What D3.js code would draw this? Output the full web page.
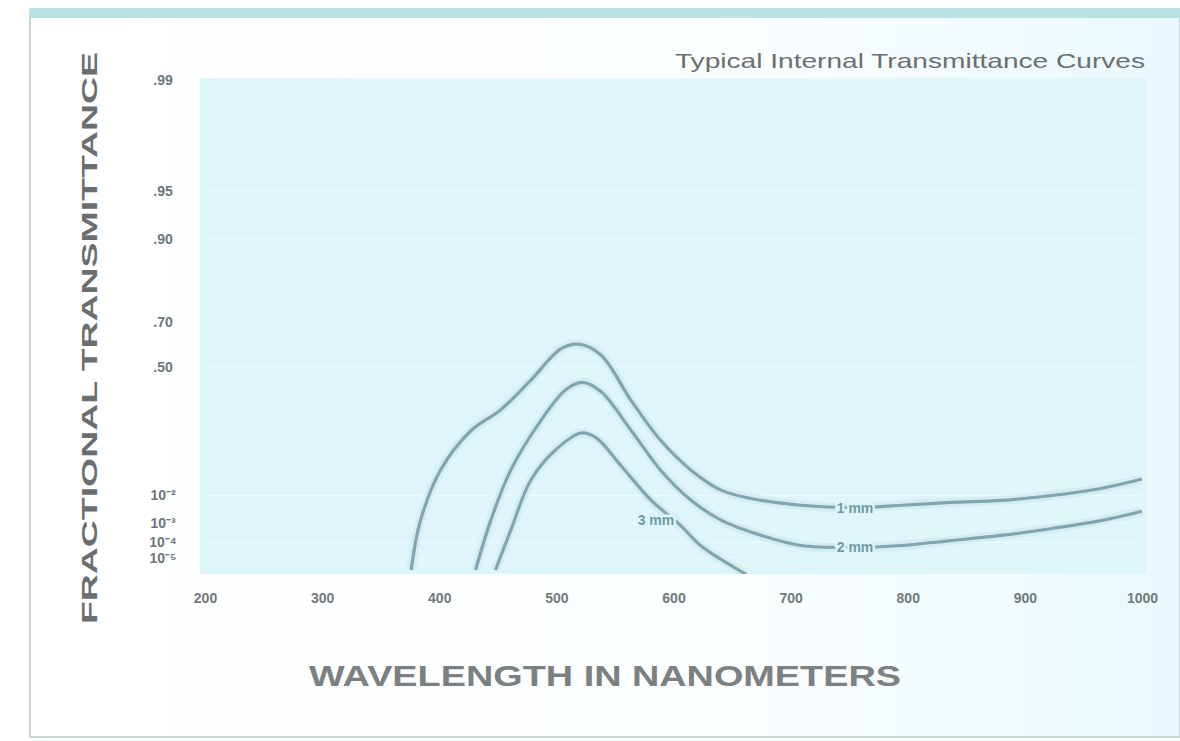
<!DOCTYPE html>
<html>
<head>
<meta charset="utf-8">
<script src="https://cdn.jsdelivr.net/npm/d3@7"></script>
<style>
  body { margin: 0; background: #fff; }
  text { font-family: "Liberation Sans", Arial, sans-serif; }
</style>
</head>
<body>
<div id="chart"></div>
<script>
// wavelength ticks (nm)
const xTicks = [200, 300, 400, 500, 600, 700, 800, 900, 1000];
// transmittance ticks on the double-log (diabatic) scale
const yTicks = [0.99, 0.95, 0.9, 0.7, 0.5, 1e-2, 1e-3, 1e-4, 1e-5];
const yTickLabels = [".99", ".95", ".90", ".70", ".50", "10⁻²", "10⁻³", "10⁻⁴", "10⁻⁵"];

// curves: [wavelength nm, internal transmittance]
const curve1 = [
  [376, 1e-6], [384, 0.0013], [401, 0.042], [427, 0.17], [452, 0.27], [478, 0.43],
  [504, 0.59], [519, 0.61], [538, 0.56], [564, 0.32], [589, 0.13], [615, 0.042],
  [641, 0.014], [675, 0.0071], [709, 0.0049], [752, 0.0041], [795, 0.0049],
  [837, 0.0061], [880, 0.0071], [923, 0.010], [966, 0.016], [1000, 0.027]
];
const curve2 = [
  [431, 1e-6], [444, 0.0013], [461, 0.042], [487, 0.22], [508, 0.38], [522, 0.42],
  [538, 0.37], [564, 0.17], [589, 0.042], [615, 0.0071], [641, 0.0013], [675, 0.00025],
  [709, 6.6e-5], [752, 5e-5], [795, 6.6e-5], [837, 1.3e-4], [880, 2.5e-4],
  [923, 5.6e-4], [966, 0.0013], [1000, 0.003]
];
const curve3 = [
  [448, 1e-6], [461, 4.5e-4], [478, 0.025], [499, 0.094], [521, 0.16], [534, 0.14],
  [555, 0.052], [581, 0.0071], [606, 7.8e-4], [623, 6.6e-5], [649, 2.5e-6], [662, 4e-7]
];
const curveNames = ["1 mm", "2 mm", "3 mm"];
const labelAt = [755, 755, 585]; // wavelength where each name sits
const labelT = [0.0041, 5e-5, 0.0013]; // transmittance level of each name

const W = 1180, H = 741;
const plot = { left: 205, right: 1142, top: 80, bottom: 570 };

// diabatic ordinate: theta = 1 - log10(log10(1/t))
const theta = t => 1 - Math.log10(Math.log10(1 / t));

const svg = d3.select("#chart").append("svg")
  .attr("width", W).attr("height", H);

const defs = svg.append("defs");
const bg = defs.append("linearGradient").attr("id", "bg").attr("x1", 0).attr("x2", 1);
bg.append("stop").attr("offset", "0").attr("stop-color", "#ffffff");
bg.append("stop").attr("offset", "0.6").attr("stop-color", "#fbfeff");
bg.append("stop").attr("offset", "1").attr("stop-color", "#eaf9fc");
defs.append("clipPath").attr("id", "clip").append("rect")
  .attr("x", plot.left - 5).attr("y", plot.top - 2)
  .attr("width", plot.right - plot.left + 10).attr("height", plot.bottom - plot.top + 6);

// frame
svg.append("rect").attr("x", 30).attr("y", 10).attr("width", W - 30).attr("height", H - 14)
  .attr("fill", "url(#bg)").attr("stroke", "#c9d6da").attr("stroke-width", 2);
svg.append("rect").attr("x", 30).attr("y", 8).attr("width", W - 30).attr("height", 10)
  .attr("fill", "#b9e2e2");

// plot area
svg.append("rect")
  .attr("x", plot.left - 5).attr("y", plot.top - 2)
  .attr("width", plot.right - plot.left + 10).attr("height", plot.bottom - plot.top + 6)
  .attr("fill", "#def5fa");

const x = d3.scaleLinear().domain([200, 1000]).range([plot.left, plot.right]);
const y = d3.scaleLinear().domain([theta(1e-6), theta(0.99)]).range([plot.bottom, plot.top]);

// faint grid
svg.append("g").selectAll("line").data(yTicks).join("line")
  .attr("x1", plot.left).attr("x2", plot.right)
  .attr("y1", d => y(theta(d))).attr("y2", d => y(theta(d)))
  .attr("stroke", "#eafafd").attr("stroke-width", 1);

// axes (labels only)
const xAxis = svg.append("g")
  .attr("transform", `translate(0,${plot.bottom + 20})`)
  .call(d3.axisBottom(x).tickValues(xTicks).tickSize(0).tickFormat(d3.format("d")));
xAxis.select(".domain").remove();
xAxis.selectAll("text").attr("font-size", 14).attr("font-weight", "bold").attr("fill", "#707a7c");

const yAxis = svg.append("g")
  .attr("transform", `translate(${plot.left - 25},0)`)
  .call(d3.axisLeft(d3.scaleLinear().domain(y.domain()).range(y.range()))
    .tickValues(yTicks.map(theta)).tickSize(0)
    .tickFormat((d, i) => yTickLabels[i]));
yAxis.select(".domain").remove();
yAxis.selectAll("text").attr("font-size", 14).attr("font-weight", "bold").attr("fill", "#6c7678")
  .attr("text-anchor", "middle").attr("dx", -14);

// curves
const line = d3.line()
  .x(d => x(d[0]))
  .y(d => y(theta(d[1])))
  .curve(d3.curveCatmullRom.alpha(0.5));

const curves = [curve1, curve2, curve3];
const g = svg.append("g").attr("clip-path", "url(#clip)");
g.selectAll("path.halo").data(curves).join("path")
  .attr("class", "halo")
  .attr("d", line).attr("fill", "none")
  .attr("stroke", "#cfe7ec").attr("stroke-width", 9).attr("stroke-opacity", 0.6);
g.selectAll("path.curve").data(curves).join("path")
  .attr("class", "curve")
  .attr("d", line).attr("fill", "none")
  .attr("stroke", "#7fa6ae").attr("stroke-width", 3.2);

// curve names
svg.selectAll("text.cname").data(curveNames).join("text")
  .attr("class", "cname")
  .attr("x", (d, i) => x(labelAt[i]))
  .attr("y", (d, i) => y(theta(labelT[i])) + 5)
  .attr("text-anchor", "middle")
  .attr("font-size", 14).attr("font-weight", "bold")
  .attr("fill", "#6e9aa3")
  .attr("stroke", "#def5fa").attr("stroke-width", 5).attr("paint-order", "stroke")
  .text(d => d);

// titles
svg.append("text")
  .attr("x", 1145).attr("y", 68).attr("text-anchor", "end")
  .attr("font-size", 21).attr("fill", "#6b6f70")
  .attr("textLength", 470).attr("lengthAdjust", "spacingAndGlyphs")
  .text("Typical Internal Transmittance Curves");

svg.append("text")
  .attr("transform", `translate(97,338) rotate(-90)`)
  .attr("text-anchor", "middle")
  .attr("font-size", 22).attr("font-weight", "bold").attr("fill", "#6a6e6f")
  .attr("textLength", 572).attr("lengthAdjust", "spacingAndGlyphs")
  .text("FRACTIONAL TRANSMITTANCE");

svg.append("text")
  .attr("x", 605).attr("y", 686).attr("text-anchor", "middle")
  .attr("font-size", 30).attr("font-weight", "bold").attr("fill", "#7b8081")
  .attr("textLength", 592).attr("lengthAdjust", "spacingAndGlyphs")
  .text("WAVELENGTH IN NANOMETERS");
</script>
</body>
</html>
